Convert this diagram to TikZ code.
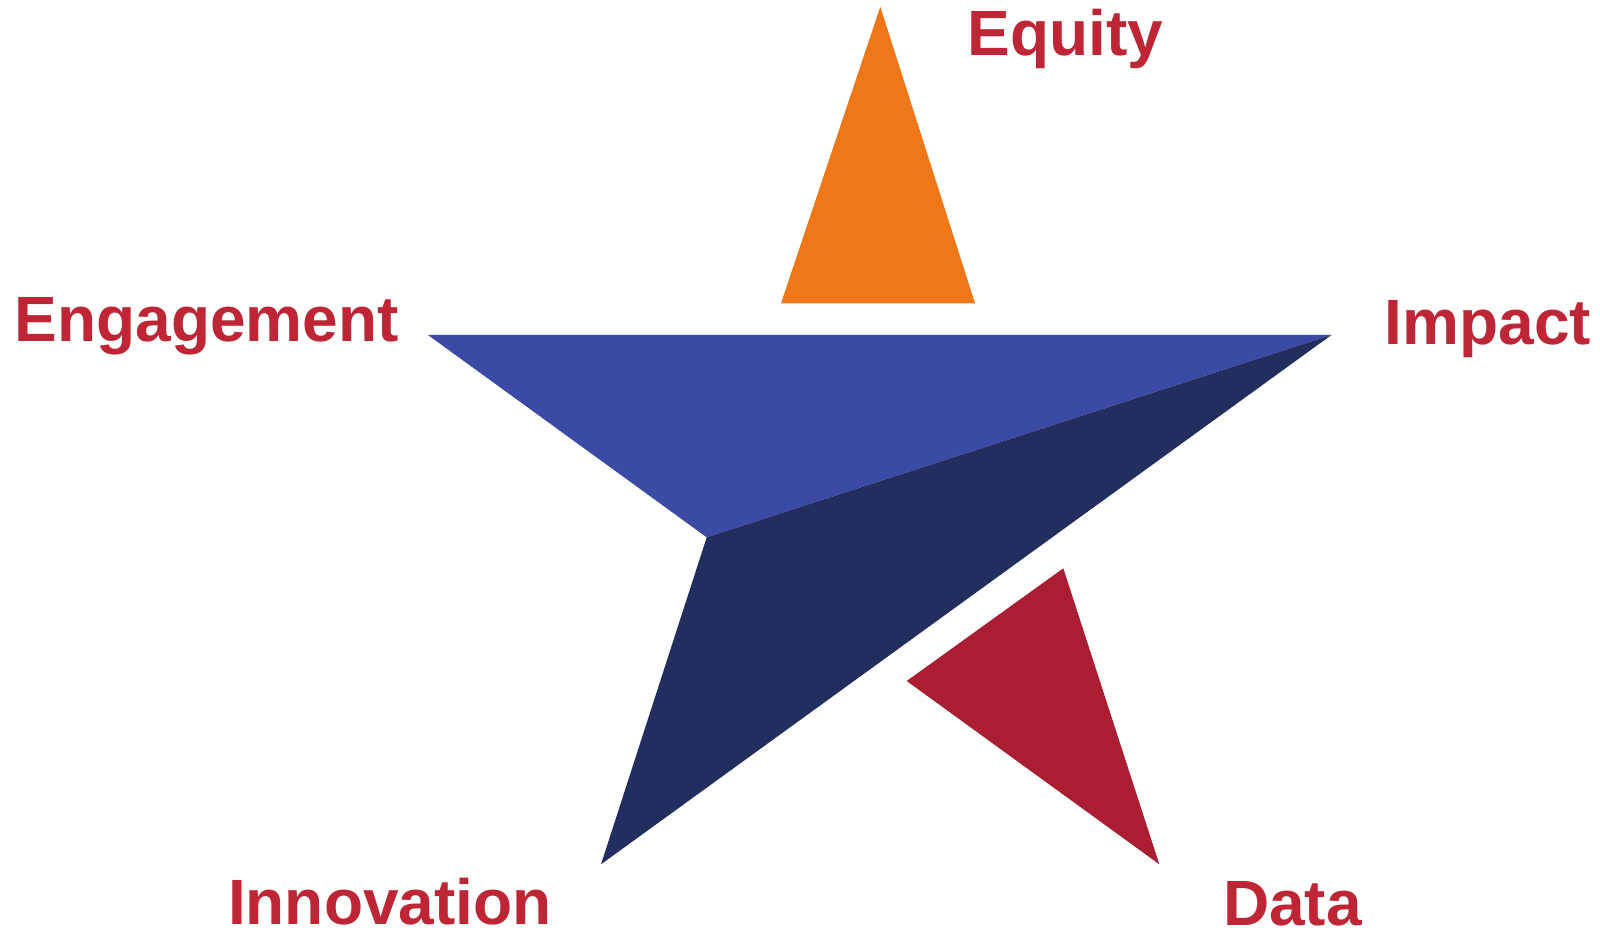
\documentclass[tikz,border=0pt]{standalone}
\usepackage{fontspec}
\setmainfont{Liberation Sans}
\definecolor{cOrange}{HTML}{EF7718}
\definecolor{cBlue}{HTML}{3B4BA5}
\definecolor{cNavy}{HTML}{232D5E}
\definecolor{cRed}{HTML}{AB1E31}
\definecolor{cText}{HTML}{BE2636}
\begin{document}
\begin{tikzpicture}[x=1pt,y=-1pt,
  lbl/.style={anchor=base west,inner sep=0pt,text=cText,font=\fontsize{64}{70}\selectfont\bfseries}]
\useasboundingbox (0,0) rectangle (1600,929);
% star pieces
\coordinate (eqTop) at (880.3,6.7);
\coordinate (eqL) at (781,303.3);
\coordinate (eqR) at (975,303.3);
\coordinate (leftTip) at (427.7,334.8);
\coordinate (rightTip) at (1331.7,334.8);
\coordinate (inner) at (706.7,537.3);
\coordinate (botTip) at (601,864.3);
\coordinate (dTop) at (1063.3,568.3);
\coordinate (dL) at (906.7,681);
\coordinate (dBot) at (1159.3,864.3);
\fill[cOrange] (eqTop) -- (eqR) -- (eqL) -- cycle;
\fill[cBlue] (leftTip) -- (rightTip) -- (inner) -- cycle;
\fill[cNavy] (inner) -- (rightTip) -- (botTip) -- cycle;
\fill[cRed] (dTop) -- (dBot) -- (dL) -- cycle;
% labels
\node[lbl] (equity) at (967.2,55) {Equity};
\node[lbl] (engagement) at (14.5,341.7) {Engagement};
\node[lbl] (impact) at (1384.5,344) {Impact};
\node[lbl,text depth=0pt] (innovation) at (227.8,924) {Innovation};
\node[lbl,text depth=0pt] (data) at (1222.8,925) {Data};
\end{tikzpicture}
\end{document}
